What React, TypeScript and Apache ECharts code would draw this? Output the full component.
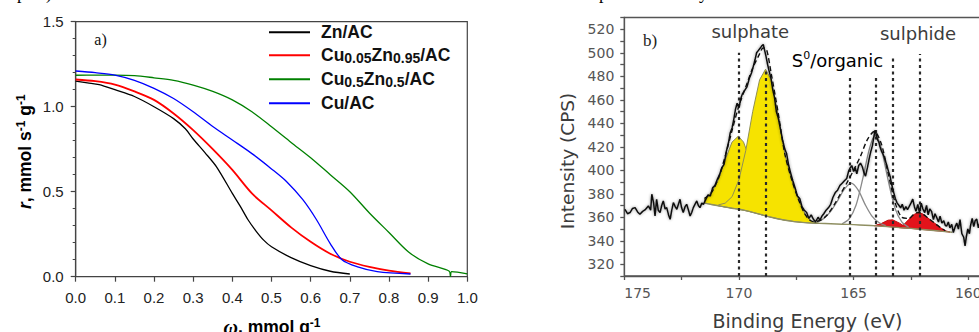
import React, { useEffect, useRef } from 'react';
import * as echarts from 'echarts';

const SANS = '"Liberation Sans", Arial, Helvetica, sans-serif';
const SERIF = '"Liberation Serif", "Times New Roman", serif';
const DEJAVU = '"DejaVu Sans", sans-serif';

// ---------------- panel a) ----------------
const seriesNames = ['Zn/AC', 'Cu0.05Zn0.95/AC', 'Cu0.5Zn0.5/AC', 'Cu/AC'];
const seriesColors = ['#000000', '#ff0000', '#008000', '#0000ff'];

const znAC = [
  [0, 1.15], [0.03, 1.14], [0.06, 1.13], [0.1, 1.10], [0.15, 1.06], [0.2, 1.0], [0.25, 0.93],
  [0.28, 0.87], [0.3, 0.81], [0.33, 0.73], [0.36, 0.645], [0.4, 0.49], [0.42, 0.415], [0.44, 0.335],
  [0.46, 0.27], [0.48, 0.215], [0.5, 0.176], [0.55, 0.112], [0.6, 0.065], [0.65, 0.032], [0.7, 0.016],
];
const cu005AC = [
  [0, 1.16], [0.05, 1.15], [0.1, 1.13], [0.15, 1.09], [0.2, 1.04], [0.25, 0.96], [0.3, 0.862],
  [0.35, 0.75], [0.4, 0.628], [0.45, 0.49], [0.5, 0.39], [0.55, 0.29], [0.6, 0.205], [0.65, 0.135],
  [0.7, 0.088], [0.75, 0.058], [0.8, 0.036], [0.855, 0.02],
];
const cu05AC = [
  [0, 1.185], [0.05, 1.186], [0.1, 1.186], [0.15, 1.183], [0.2, 1.17], [0.25, 1.155], [0.3, 1.127],
  [0.35, 1.09], [0.4, 1.04], [0.45, 0.97], [0.5, 0.882], [0.55, 0.79], [0.6, 0.7], [0.65, 0.6],
  [0.7, 0.5], [0.75, 0.375], [0.8, 0.26], [0.85, 0.145], [0.9, 0.075], [0.954, 0.032], [0.957, 0.0],
  [0.96, 0.03], [1.0, 0.016],
];
const cuAC = [
  [0, 1.21], [0.05, 1.2], [0.1, 1.186], [0.15, 1.155], [0.2, 1.108], [0.25, 1.048], [0.3, 0.97],
  [0.35, 0.883], [0.4, 0.804], [0.45, 0.724], [0.5, 0.634], [0.54, 0.556], [0.58, 0.453],
  [0.615, 0.335], [0.65, 0.195], [0.68, 0.1], [0.72, 0.058], [0.77, 0.03], [0.855, 0.016],
];
const seriesData = [znAC, cu005AC, cu05AC, cuAC];

// ---------------- panel b) ----------------
const spectrum = [
  [174.97, 366.8], [174.86, 363], [174.75, 364], [174.64, 367.5], [174.53, 368.2], [174.42, 364.5],
  [174.32, 362.6], [174.2, 365], [174.1, 366.2], [173.95, 369.6], [173.85, 366], [173.8, 379.6],
  [173.72, 372], [173.66, 361.1], [173.59, 375.3], [173.52, 366], [173.44, 364], [173.37, 370],
  [173.3, 373.9], [173.22, 367], [173.15, 368.2], [173.07, 362], [173.0, 358.3], [172.93, 366],
  [172.86, 372.5], [172.78, 369], [172.71, 366.8], [172.64, 371], [172.57, 375.3], [172.5, 368],
  [172.43, 364], [172.35, 369], [172.28, 371], [172.2, 366], [172.13, 361.1], [172.06, 364],
  [171.99, 368.2], [171.92, 371], [171.84, 373.9], [171.77, 370], [171.7, 368.2], [171.62, 372],
  [171.55, 371], [171.45, 375], [171.35, 379], [171.25, 378], [171.15, 385], [171.05, 387],
  [170.95, 392], [170.85, 396], [170.75, 402], [170.65, 405], [170.55, 416], [170.45, 424],
  [170.38, 432], [170.3, 436], [170.22, 444], [170.15, 452], [170.08, 457], [170.0, 453],
  [169.92, 461], [169.85, 465], [169.75, 468], [169.65, 471], [169.55, 478], [169.45, 483],
  [169.38, 488], [169.3, 494], [169.23, 500], [169.15, 502], [169.07, 504], [169.0, 506],
  [168.94, 507], [168.88, 502], [168.82, 497], [168.75, 490], [168.68, 484], [168.6, 478],
  [168.52, 468], [168.45, 462], [168.37, 450], [168.28, 444], [168.2, 436], [168.1, 426],
  [168.0, 418], [167.92, 414], [167.83, 404], [167.75, 398], [167.65, 391], [167.55, 385],
  [167.45, 378], [167.35, 376], [167.25, 369], [167.15, 366], [167.05, 364], [166.95, 359],
  [166.85, 362], [166.76, 358.5], [166.66, 356], [166.55, 360], [166.47, 357.5], [166.38, 361],
  [166.3, 363], [166.2, 366], [166.1, 368], [166.0, 371], [165.9, 377], [165.8, 381], [165.7, 383],
  [165.6, 387], [165.5, 389], [165.4, 391], [165.3, 393], [165.22, 399], [165.15, 402],
  [165.08, 404], [165.0, 399], [164.93, 402], [164.86, 397], [164.78, 404], [164.7, 406],
  [164.62, 403], [164.55, 398], [164.48, 395], [164.4, 402], [164.32, 410], [164.25, 416],
  [164.18, 421], [164.12, 428], [164.07, 434], [164.02, 431], [163.96, 426], [163.9, 424],
  [163.85, 420], [163.78, 416], [163.7, 413], [163.63, 409], [163.55, 404], [163.48, 399],
  [163.41, 395], [163.33, 387], [163.25, 381], [163.18, 376], [163.1, 372], [163.02, 370],
  [162.95, 368], [162.88, 371], [162.8, 366], [162.72, 369], [162.65, 366.5], [162.58, 369],
  [162.5, 372], [162.42, 375.5], [162.35, 369], [162.28, 365], [162.2, 371], [162.13, 364],
  [162.05, 372], [161.98, 367], [161.9, 364], [161.82, 370], [161.75, 362], [161.68, 367],
  [161.6, 365], [161.52, 358], [161.45, 363], [161.38, 360], [161.3, 356], [161.23, 361],
  [161.15, 355], [161.07, 357], [161.0, 353], [160.94, 352.6], [160.87, 356], [160.8, 351],
  [160.72, 354], [160.65, 347], [160.57, 352], [160.5, 355], [160.43, 350], [160.36, 358],
  [160.28, 346], [160.2, 343], [160.14, 335.6], [160.08, 344], [160.02, 350], [159.95, 346],
  [159.9, 353], [159.83, 359], [159.76, 352], [159.7, 357], [159.63, 358.5], [159.56, 351],
  [159.5, 355],
];
const background = [
  [171.5, 372], [171.2, 370.8], [170.9, 369.8], [170.6, 368.7], [170.3, 367.7], [170.0, 366.8],
  [169.7, 365.6], [169.4, 364.2], [169.1, 362.6], [168.8, 361], [168.5, 359.6], [168.2, 358.3],
  [167.9, 357.2], [167.6, 356.3], [167.3, 355.7], [167.0, 355.2], [166.5, 354.8], [166.0, 354.5],
  [165.5, 354.1], [165.0, 353.7], [164.5, 353.2], [164.0, 352.7], [163.5, 352], [163.0, 351.2],
  [162.5, 350.5], [162.0, 349.6], [161.5, 348.7], [161.0, 347.8], [160.7, 347.2],
];
const envelope = [
  [171.5, 376], [171.2, 381], [170.9, 393], [170.6, 412], [170.3, 434], [170.0, 455], [169.7, 471],
  [169.4, 487], [169.1, 499], [168.95, 504], [168.8, 503], [168.6, 483], [168.3, 450], [168.0, 414],
  [167.7, 392], [167.4, 375], [167.1, 362], [166.8, 356.5], [166.5, 357], [166.2, 361], [165.9, 369],
  [165.6, 379], [165.3, 389], [165.0, 400], [164.7, 412], [164.4, 426], [164.1, 433], [163.8, 423],
  [163.5, 398], [163.2, 373], [162.9, 360], [162.6, 359], [162.4, 362], [162.2, 364], [162.0, 363],
  [161.8, 360], [161.6, 357], [161.4, 354], [161.2, 351], [161.0, 348.5],
];
const sulphatePeak1 = [
  [171.5, 376], [171.2, 381], [170.9, 392], [170.6, 409], [170.3, 424], [170.03, 429], [169.8, 424],
  [169.5, 408], [169.2, 389], [168.9, 374], [168.6, 365], [168.3, 360.5], [168.0, 357.6],
];
const sulphatePeak2 = [
  [170.9, 370.5], [170.6, 372], [170.3, 377.5], [170.0, 392], [169.7, 417], [169.4, 450], [169.1, 477],
  [168.84, 486], [168.6, 477], [168.3, 448], [168.0, 414], [167.7, 392], [167.4, 375], [167.1, 362],
  [166.8, 356], [166.5, 354.8],
];
const organicPeak1 = [
  [166.6, 356], [166.3, 359], [166.0, 365], [165.7, 374], [165.4, 384], [165.1, 389], [164.8, 383],
  [164.5, 371], [164.2, 361], [163.9, 355.5], [163.6, 352.8],
];
const organicPeak2 = [
  [165.5, 354.5], [165.2, 358.5], [164.9, 370], [164.6, 393], [164.3, 419], [164.05, 430],
  [163.8, 419], [163.5, 392], [163.2, 368], [162.9, 356], [162.6, 351.5],
];
const sulphidePeak1 = [
  [164.1, 352.8], [163.8, 354.6], [163.5, 357.5], [163.3, 357.8], [163.0, 355], [162.8, 352.5], [162.6, 350.8],
];
const sulphidePeak2 = [
  [163.0, 351.2], [162.8, 354], [162.6, 358], [162.4, 362], [162.2, 364], [162.0, 363], [161.8, 360],
  [161.6, 357], [161.4, 354], [161.2, 351], [161.0, 348.5], [160.8, 347.4],
];
const guideEnergies = [170.0, 168.83, 165.15, 164.02, 163.3, 162.1];
const guideTops = [500, 484, 480, 480, 497, 499];

const legendLabels: Record<string, string> = {
  'Zn/AC': '{b|Zn/AC}',
  'Cu0.05Zn0.95/AC': '{b|Cu}{sub|0.05}{b|Zn}{sub|0.95}{b|/AC}',
  'Cu0.5Zn0.5/AC': '{b|Cu}{sub|0.5}{b|Zn}{sub|0.5}{b|/AC}',
  'Cu/AC': '{b|Cu/AC}',
};

function fillBetween(peak: number[][], base: number[][], fill: string, stroke: string) {
  const hi = peak[0][0];
  const lo = peak[peak.length - 1][0];
  const inner = base.filter((p) => p[0] <= hi && p[0] >= lo).slice().reverse();
  const poly = [...peak, ...inner];
  return {
    type: 'custom',
    xAxisIndex: 1,
    yAxisIndex: 1,
    silent: true,
    clip: true,
    z: 2,
    data: [[peak[0][0], peak[0][1]]],
    renderItem: (_params: any, api: any) => ({
      type: 'polygon',
      shape: { points: poly.map((p) => api.coord(p)) },
      style: { fill, stroke, lineWidth: 1 },
    }),
  };
}

export default function App() {
  const ref = useRef<HTMLDivElement>(null);

  useEffect(() => {
    if (!ref.current) return;
    const chart = echarts.init(ref.current, undefined, { renderer: 'svg' });

    const titleRich = {
      b: { fontFamily: SANS, fontWeight: 'bold', fontSize: 17.5, lineHeight: 20, color: '#111' },
      i: { fontFamily: SANS, fontWeight: 'bold', fontStyle: 'italic', fontSize: 17.5, lineHeight: 20, color: '#111' },
      w: { fontFamily: SERIF, fontWeight: 'bold', fontStyle: 'italic', fontSize: 20, lineHeight: 20, color: '#111' },
      sup: { fontFamily: SANS, fontWeight: 'bold', fontSize: 12, lineHeight: 11, verticalAlign: 'top', color: '#111' },
    };
    const axisA = { color: '#444', width: 1.2 };
    const labelA = { fontFamily: SANS, fontSize: 15, color: '#222' };
    const axisB = { color: '#555', width: 1.3 };
    const labelB = { fontFamily: DEJAVU, fontSize: 14, color: '#555' };
    const textB = '#3c3c3c';

    const leftSeries = seriesNames.map((name, i) => ({
      type: 'line',
      name,
      xAxisIndex: 0,
      yAxisIndex: 0,
      data: seriesData[i],
      color: seriesColors[i],
      showSymbol: false,
      symbol: 'none',
      smooth: 0.3,
      lineStyle: { color: seriesColors[i], width: i === 1 ? 1.8 : 1.3 },
      z: 3 + i,
    }));

    const option: any = {
      animation: false,
      backgroundColor: '#ffffff',
      grid: [
        { left: 75.7, top: 21.7, width: 391.6, height: 255, show: true, borderColor: '#444', borderWidth: 1.2 },
        { left: 624.3, top: 17.5, width: 401.3, height: 258.5, show: true, borderColor: '#555', borderWidth: 1.3 },
      ],
      xAxis: [
        {
          type: 'value', gridIndex: 0, min: 0, max: 1, interval: 0.1,
          axisLine: { show: true, onZero: false, lineStyle: axisA },
          axisTick: { show: true, length: 5, lineStyle: axisA },
          axisLabel: { ...labelA, margin: 13, formatter: (v: number) => v.toFixed(1) },
          splitLine: { show: false },
        },
        {
          type: 'value', gridIndex: 1, inverse: true, min: 157.5, max: 175, interval: 2.5,
          axisLine: { show: true, onZero: false, lineStyle: axisB },
          axisTick: { show: true, length: 4, lineStyle: axisB },
          axisLabel: {
            ...labelB, margin: 10, showMaxLabel: true, alignMaxLabel: 'left',
            formatter: (v: number) => (Math.abs(v % 5) < 1e-6 ? String(v) : ''),
          },
          splitLine: { show: false },
        },
      ],
      yAxis: [
        {
          type: 'value', gridIndex: 0, min: 0, max: 1.5, interval: 0.5,
          axisLine: { show: true, onZero: false, lineStyle: axisA },
          axisTick: { show: true, length: 5, lineStyle: axisA },
          minorTick: { show: true, splitNumber: 5, length: 3, lineStyle: { color: '#444', width: 1 } },
          axisLabel: { ...labelA, margin: 12, formatter: (v: number) => v.toFixed(1) },
          splitLine: { show: false },
        },
        {
          type: 'value', gridIndex: 1, min: 310, max: 530, interval: 10,
          axisLine: { show: true, onZero: false, lineStyle: axisB },
          axisTick: { show: true, length: 4, lineStyle: axisB },
          axisLabel: {
            ...labelB, margin: 10,
            formatter: (v: number) => (Math.abs((v - 320) % 20) < 1e-6 ? String(v) : ''),
          },
          splitLine: { show: false },
        },
      ],
      legend: {
        data: seriesNames,
        left: 269,
        top: 23.3,
        orient: 'vertical',
        itemGap: 5,
        itemWidth: 41,
        itemHeight: 2,
        icon: 'rect',
        padding: 0,
        selectedMode: false,
        formatter: (name: string) => legendLabels[name],
        textStyle: {
          padding: [0, 0, 0, 6],
          rich: {
            b: { fontFamily: SANS, fontWeight: 'bold', fontSize: 17.5, lineHeight: 20, color: '#111' },
            sub: { fontFamily: SANS, fontWeight: 'bold', fontSize: 14, lineHeight: 11, verticalAlign: 'bottom', color: '#111' },
          },
        },
      },
      series: [
        ...leftSeries,
        fillBetween(sulphatePeak1, background, '#f6e300', '#8f8f55'),
        fillBetween(sulphatePeak2, background, '#f6e300', '#8f8f55'),
        fillBetween(sulphidePeak1, background, '#e3131b', '#c01010'),
        fillBetween(sulphidePeak2, background, '#e3131b', '#c01010'),
        {
          type: 'line', name: 'organic1', xAxisIndex: 1, yAxisIndex: 1, data: organicPeak1,
          showSymbol: false, symbol: 'none', smooth: 0.3, silent: true,
          lineStyle: { color: '#8a8a8a', width: 1.3 }, z: 4,
        },
        {
          type: 'line', name: 'organic2', xAxisIndex: 1, yAxisIndex: 1, data: organicPeak2,
          showSymbol: false, symbol: 'none', smooth: 0.3, silent: true,
          lineStyle: { color: '#8a8a8a', width: 1.3 }, z: 4,
        },
        {
          type: 'line', name: 'background', xAxisIndex: 1, yAxisIndex: 1, data: background,
          showSymbol: false, symbol: 'none', smooth: 0.3, silent: true,
          lineStyle: { color: '#8f8f62', width: 1.4 }, z: 4,
          markLine: {
            silent: true,
            symbol: ['none', 'none'],
            label: { show: false },
            lineStyle: { color: '#2a2a2a', width: 2.2, type: [3, 3.5] },
            data: guideEnergies.map((e, i) => [{ coord: [e, 310] }, { coord: [e, guideTops[i]] }]),
          },
        },
        {
          type: 'line', name: 'envelope', xAxisIndex: 1, yAxisIndex: 1, data: envelope,
          showSymbol: false, symbol: 'none', smooth: 0.3, silent: true,
          lineStyle: { color: '#111', width: 1.4, type: [5, 3] }, z: 5,
        },
        {
          type: 'line', name: 'spectrum', xAxisIndex: 1, yAxisIndex: 1, data: spectrum,
          showSymbol: false, symbol: 'none', silent: true,
          lineStyle: { color: '#111', width: 1.5, shadowColor: 'rgba(0,0,0,0.45)', shadowBlur: 3 }, z: 6,
        },
      ],
      graphic: [
        // fragments of the text line above the figure (cut off in the reference too)
        { type: 'text', x: 17, y: 1.5, style: { text: 'p', font: `18px ${SERIF}`, fill: '#000', verticalAlign: 'bottom' } },
        { type: 'text', x: 46, y: 1.5, style: { text: ')', font: `18px ${SERIF}`, fill: '#000', verticalAlign: 'bottom' } },
        { type: 'text', x: 599, y: 1.5, style: { text: 'p', font: `18px ${SERIF}`, fill: '#000', verticalAlign: 'bottom' } },
        { type: 'text', x: 699, y: 1.5, style: { text: 'y', font: `18px ${SERIF}`, fill: '#000', verticalAlign: 'bottom' } },
        // panel a
        { type: 'text', x: 100.5, y: 39, style: { text: 'a)', font: `16px ${SERIF}`, fill: '#111', align: 'center', verticalAlign: 'middle' } },
        {
          type: 'text', x: 25, y: 151.7, rotation: Math.PI / 2,
          style: { text: '{i|r}{b|, mmol s}{sup|-1}{b| g}{sup|-1}', rich: titleRich, align: 'center', verticalAlign: 'middle' },
        },
        {
          type: 'text', x: 272, y: 327,
          style: { text: '{w|ω}{b|, mmol g}{sup|-1}', rich: titleRich, align: 'center', verticalAlign: 'middle' },
        },
        // panel b
        { type: 'text', x: 650, y: 40, style: { text: 'b)', font: `17px ${SERIF}`, fill: '#222', align: 'center', verticalAlign: 'middle' } },
        { type: 'text', x: 750.3, y: 31.7, style: { text: 'sulphate', font: `18px ${DEJAVU}`, fill: textB, align: 'center', verticalAlign: 'middle' } },
        {
          type: 'text', x: 837.5, y: 60,
          style: {
            text: '{n|S}{s|0}{n|/organic}', align: 'center', verticalAlign: 'middle',
            rich: {
              n: { fontFamily: DEJAVU, fontSize: 18, lineHeight: 20, color: textB },
              s: { fontFamily: DEJAVU, fontSize: 11, lineHeight: 10, verticalAlign: 'top', color: textB },
            },
          },
        },
        { type: 'text', x: 918, y: 33.3, style: { text: 'sulphide', font: `18px ${DEJAVU}`, fill: textB, align: 'center', verticalAlign: 'middle' } },
        {
          type: 'text', x: 567, y: 161, rotation: Math.PI / 2,
          style: { text: 'Intensity (CPS)', font: `18.5px ${DEJAVU}`, fill: textB, align: 'center', verticalAlign: 'middle' },
        },
        { type: 'text', x: 807.5, y: 320.7, style: { text: 'Binding Energy (eV)', font: `19px ${DEJAVU}`, fill: textB, align: 'center', verticalAlign: 'middle' } },
      ],
    };

    chart.setOption(option);
    return () => chart.dispose();
  }, []);

  return (
    <div style={{ position: 'fixed', left: 0, top: 0, width: 979, height: 332, overflow: 'hidden', background: '#fff' }}>
      <div ref={ref} style={{ width: 1040, height: 332 }} />
    </div>
  );
}
